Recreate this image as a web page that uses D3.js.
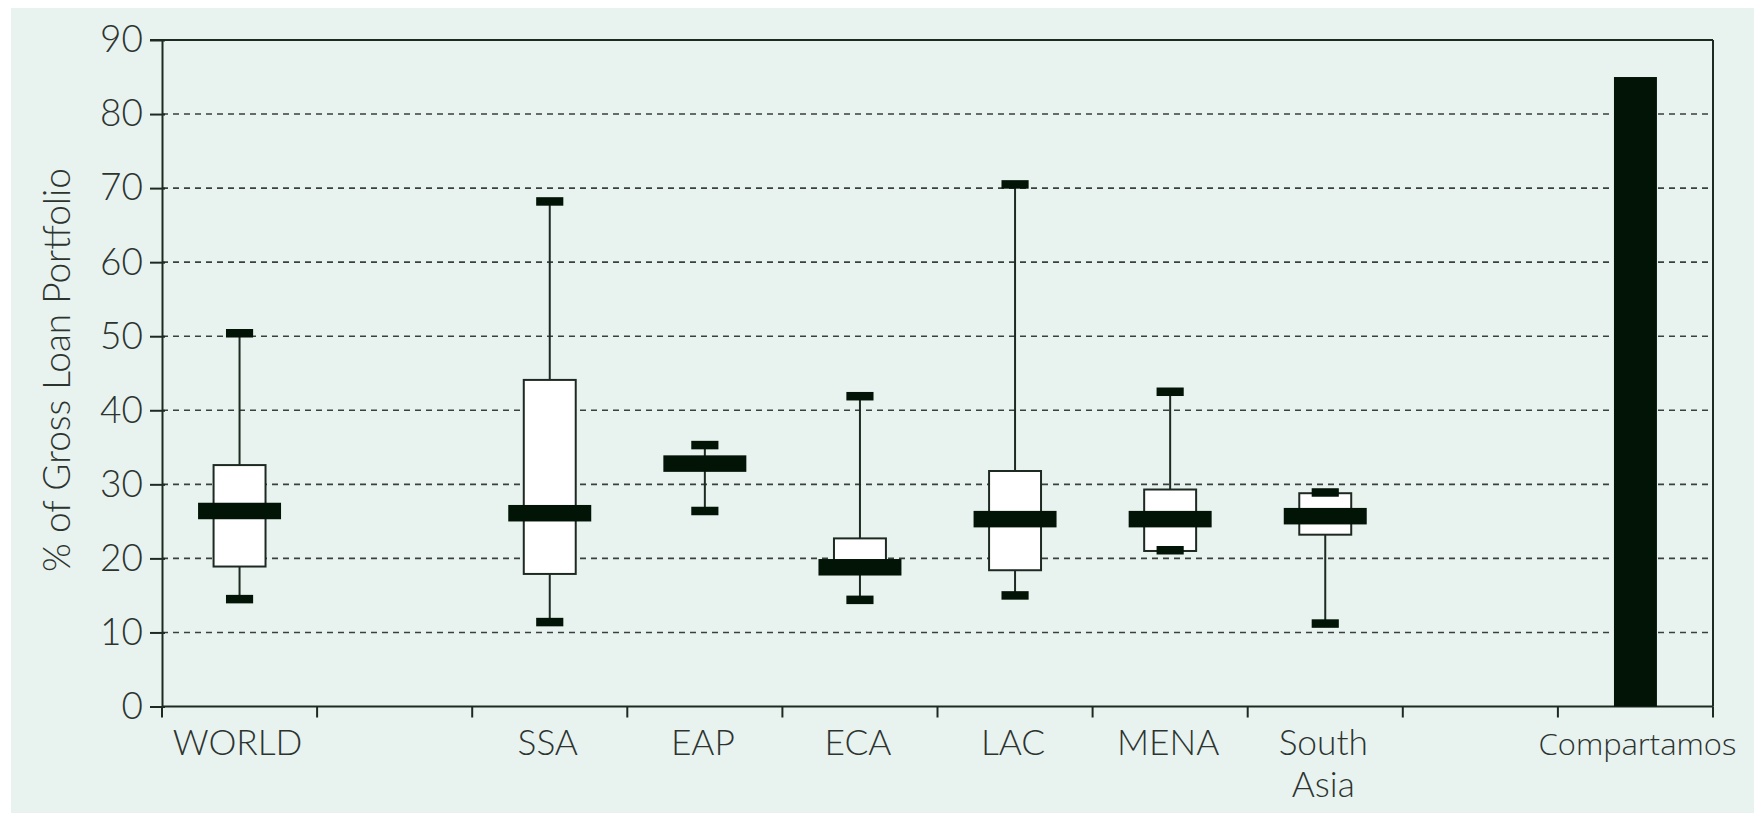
<!DOCTYPE html>
<html><head><meta charset="utf-8">
<script src="https://cdn.jsdelivr.net/npm/d3@7"></script>
<style>body{margin:0;background:#fff}</style>
</head><body><svg id="chart" width="1754" height="813"></svg>
<script>
// ---- data ----
const slots = ["WORLD","gap1","SSA","EAP","ECA","LAC","MENA","South Asia","gap2","Compartamos"];
const slotLabels = [["WORLD"],[],["SSA"],["EAP"],["ECA"],["LAC"],["MENA"],["South","Asia"],[],["Compartamos"]];
const boxCategories = ["WORLD","SSA","EAP","ECA","LAC","MENA","South Asia"];
const whiskerLow  = [14.5, 11.4, 26.4, 14.4, 15.0, 21.1, 11.2];
const quartile1   = [18.9, 17.9, 32.0, 18.2, 18.4, 21.0, 23.2];
const medians     = [26.4, 26.1, 32.8, 18.8, 25.3, 25.3, 25.7];
const quartile3   = [32.6, 44.1, 33.6, 22.7, 31.8, 29.3, 28.8];
const whiskerHigh = [50.4, 68.2, 35.3, 41.9, 70.5, 42.5, 28.9];
const barCategories = ["Compartamos"];
const barValues = [85];
const yTicks = [0,10,20,30,40,50,60,70,80,90];
const yTitle = "% of Gross Loan Portfolio";

// ---- layout ----
const W = 1754, H = 813;
const mLeft = 162, mRight = 1713, mTop = 40, mBottom = 706.5;
const ink = "#1d2a22", fillDark = "#021405", textCol = "#2c3430";
const svg = d3.select("#chart");

svg.append("rect").attr("x", 11).attr("y", 8).attr("width", W - 11).attr("height", H - 8).attr("fill", "#e8f2ef");

const x = d3.scaleBand().domain(slots).range([mLeft, mRight]).padding(0);
const y = d3.scaleLinear().domain([0, 90]).range([mBottom, mTop]);
const bw = x.bandwidth();

// grid
svg.append("g").selectAll("line").data(yTicks.filter(t => t > 0 && t < 90)).join("line")
  .attr("x1", mLeft).attr("x2", mRight).attr("y1", d => y(d)).attr("y2", d => y(d))
  .attr("stroke", "#3a403d").attr("stroke-width", 1.6).attr("stroke-dasharray", "6,5");

// frame top/right
svg.append("line").attr("x1", mLeft - 12).attr("x2", mRight).attr("y1", y(90)).attr("y2", y(90)).attr("stroke", ink).attr("stroke-width", 2);
svg.append("line").attr("x1", mRight).attr("x2", mRight).attr("y1", y(90)).attr("y2", mBottom).attr("stroke", ink).attr("stroke-width", 2);

// y axis
const yAxis = d3.axisLeft(y).tickValues(yTicks).tickSize(12).tickSizeOuter(0).tickPadding(8);
const gy = svg.append("g").attr("transform", `translate(${mLeft},0)`).call(yAxis);
gy.select(".domain").attr("stroke", ink).attr("stroke-width", 2);
gy.selectAll(".tick line").attr("stroke", ink).attr("stroke-width", 2).attr("x2", -12).attr("x1", 3);
gy.selectAll(".tick text").attr("fill", textCol).style("font-family", "Lato").style("font-size", "37px")
  .style("font-weight", 300).attr("x", -19);

// x axis line + boundary ticks
svg.append("line").attr("x1", mLeft).attr("x2", mRight).attr("y1", mBottom).attr("y2", mBottom).attr("stroke", ink).attr("stroke-width", 2);
const bounds = slots.map(s => x(s)).concat([x(slots[slots.length - 1]) + bw]);
svg.append("g").selectAll("line").data(bounds).join("line")
  .attr("x1", d => d).attr("x2", d => d).attr("y1", mBottom).attr("y2", mBottom + 11)
  .attr("stroke", ink).attr("stroke-width", 2);

// x labels
slots.forEach((s, i) => {
  const cx = x(s) + bw / 2;
  slotLabels[i].forEach((line, j) => {
    const isComp = s === "Compartamos";
    svg.append("text")
      .attr("transform", `translate(${isComp ? cx + 2 : cx - 2},${755 + j * 42}) scale(${isComp ? 1.065 : 0.98},1)`)
      .attr("text-anchor", "middle").attr("fill", textCol)
      .style("font-family", isComp ? "'Open Sans'" : "Lato")
      .style("font-weight", 300)
      .style("font-size", isComp ? "29px" : "36px")
      .text(line);
  });
});

// y title
svg.append("text")
  .attr("transform", `translate(70,370) rotate(-90)`)
  .attr("text-anchor", "middle").attr("fill", textCol)
  .style("font-family", "Lato").style("font-weight", 300).style("font-size", "37px")
  .text(yTitle);

// box plots
const boxW = bw * 0.335, medW = bw * 0.535, capW = bw * 0.175, medH = 16.5, capH = 8.5;
const boxes = boxCategories.map((c, i) => ({c, lo: whiskerLow[i], q1: quartile1[i], med: medians[i], q3: quartile3[i], hi: whiskerHigh[i]}));
const gb = svg.append("g").selectAll("g").data(boxes).join("g")
  .attr("transform", d => `translate(${x(d.c) + bw / 2},0)`);
gb.append("line").attr("x1", 0).attr("x2", 0).attr("y1", d => y(d.lo)).attr("y2", d => y(d.hi))
  .attr("stroke", ink).attr("stroke-width", 2);
gb.append("rect").attr("x", -boxW / 2).attr("width", boxW)
  .attr("y", d => y(d.q3)).attr("height", d => y(d.q1) - y(d.q3))
  .attr("fill", "#fff").attr("stroke", ink).attr("stroke-width", 2);
gb.append("rect").attr("x", -medW / 2).attr("width", medW)
  .attr("y", d => y(d.med) - medH / 2).attr("height", medH).attr("fill", fillDark);
gb.append("rect").attr("x", -capW / 2).attr("width", capW)
  .attr("y", d => y(d.hi) - capH / 2).attr("height", capH).attr("fill", fillDark);
gb.append("rect").attr("x", -capW / 2).attr("width", capW)
  .attr("y", d => y(d.lo) - capH / 2).attr("height", capH).attr("fill", fillDark);

// Compartamos bar
const barW = bw * 0.277;
svg.append("g").selectAll("rect").data(barCategories).join("rect")
  .attr("x", d => x(d) + bw / 2 - barW / 2).attr("width", barW)
  .attr("y", (d, i) => y(barValues[i])).attr("height", (d, i) => mBottom - y(barValues[i]))
  .attr("fill", fillDark);
</script></body></html>
